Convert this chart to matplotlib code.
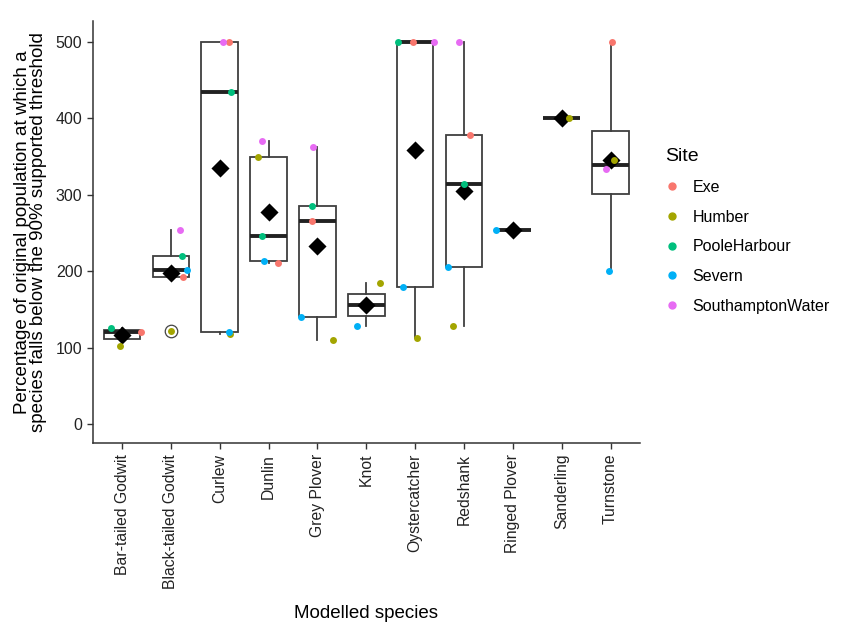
import numpy as np
import matplotlib
matplotlib.use("Agg")
import matplotlib.pyplot as plt
from matplotlib.lines import Line2D

plt.rcParams['font.family'] = ['Liberation Sans', 'DejaVu Sans']

nan = np.nan

# Species (x categories)
species = ["Bar-tailed Godwit", "Black-tailed Godwit", "Curlew", "Dunlin",
           "Grey Plover", "Knot", "Oystercatcher", "Redshank",
           "Ringed Plover", "Sanderling", "Turnstone"]

# Values per site, one entry per species (nan = site not modelled)
exe         = [121, 193, 500, 211, 266, nan, 500, 378, nan, nan, 500]
humber      = [102, 122, 118, 350, 110, 185, 113, 128, nan, 401, 345]
poole       = [126, 220, 434, 246, 285, nan, 500, 314, nan, nan, nan]
severn      = [nan, 202, 121, 213, 140, 128, 180, 206, 254, nan, 201]
southampton = [nan, 254, 500, 370, 362, nan, 500, 500, nan, nan, 334]

sites = ["Exe", "Humber", "PooleHarbour", "Severn", "SouthamptonWater"]
site_values = [exe, humber, poole, severn, southampton]
site_colors = ["#F8766D", "#A3A500", "#00BF7D", "#00B0F6", "#E76BF3"]

# horizontal jitter of the points as seen in the picture (category units)
jit_exe    = [0.38, 0.25, 0.19, 0.20, -0.11, 0, -0.05, 0.13, 0, 0, 0.02]
jit_humber = [-0.04, 0.0, 0.21, -0.21, 0.31, 0.28, 0.04, -0.22, 0, 0.16, 0.07]
jit_poole  = [-0.23, 0.23, 0.24, -0.14, -0.11, 0, -0.36, 0.0, 0, 0, 0]
jit_severn = [0, 0.33, 0.18, -0.09, -0.34, -0.19, -0.24, -0.32, -0.34, 0, -0.03]
jit_south  = [0, 0.18, 0.06, -0.14, -0.09, 0, 0.39, -0.11, 0, 0, -0.10]
site_jitter = [jit_exe, jit_humber, jit_poole, jit_severn, jit_south]

fig = plt.figure(figsize=(8.43, 6.28), dpi=100)
ax = fig.add_axes([0.110, 0.294, 0.649, 0.672])

pos = np.arange(1, len(species) + 1)
groups = []
for i in range(len(species)):
    vals = [v[i] for v in site_values if not np.isnan(v[i])]
    groups.append(vals)

box_col = "#3f3f3f"
ax.boxplot(groups, positions=pos, widths=0.75, whis=1.5, showcaps=False,
           patch_artist=True,
           boxprops=dict(facecolor="white", edgecolor=box_col, linewidth=1.3),
           whiskerprops=dict(color=box_col, linewidth=1.3),
           medianprops=dict(color="#222222", linewidth=2.8, solid_capstyle="butt"),
           flierprops=dict(marker="o", markerfacecolor="none",
                           markeredgecolor="#444444", markersize=9,
                           markeredgewidth=0.9),
           zorder=1)

# mean diamonds
means = [np.mean(g) for g in groups]
ax.scatter(pos, means, marker="D", s=85, color="black", zorder=3,
           linewidths=0)

# site points
for vals, jit, col in zip(site_values, site_jitter, site_colors):
    vals = np.array(vals, dtype=float)
    ok = ~np.isnan(vals)
    ax.scatter(pos[ok] + np.array(jit)[ok], vals[ok], s=25, color=col,
               zorder=4, linewidths=0)

ax.set_xlim(0.4, len(species) + 0.6)
ax.set_ylim(-25, 527)
ax.set_yticks([0, 100, 200, 300, 400, 500])
ax.set_xticks(pos)
ax.set_xticklabels(species, rotation=90, fontsize=11.3, color="#222222")
ax.tick_params(axis="y", labelsize=11.5, labelcolor="#222222")
ax.tick_params(color="#333333", length=4, width=1)
for s in ["top", "right"]:
    ax.spines[s].set_visible(False)
for s in ["left", "bottom"]:
    ax.spines[s].set_color("#333333")
    ax.spines[s].set_linewidth(1.1)

ax.set_xlabel("Modelled species", fontsize=13.5, labelpad=12)
ax.set_ylabel("Percentage of original population at which a\n"
              "species falls below the 90% supported threshold",
              fontsize=13.5, labelpad=6, linespacing=0.92)

handles = [Line2D([], [], marker="o", linestyle="none", color=c,
                  markersize=5) for c in site_colors]
leg = fig.legend(handles, sites, title="Site", loc="upper left",
                 bbox_to_anchor=(0.772, 0.787), frameon=False,
                 fontsize=11.5, title_fontsize=14, handletextpad=0.9,
                 labelspacing=0.92, handlelength=0.8)
leg._legend_box.align = "left"

fig.savefig("out.png", dpi=100)
